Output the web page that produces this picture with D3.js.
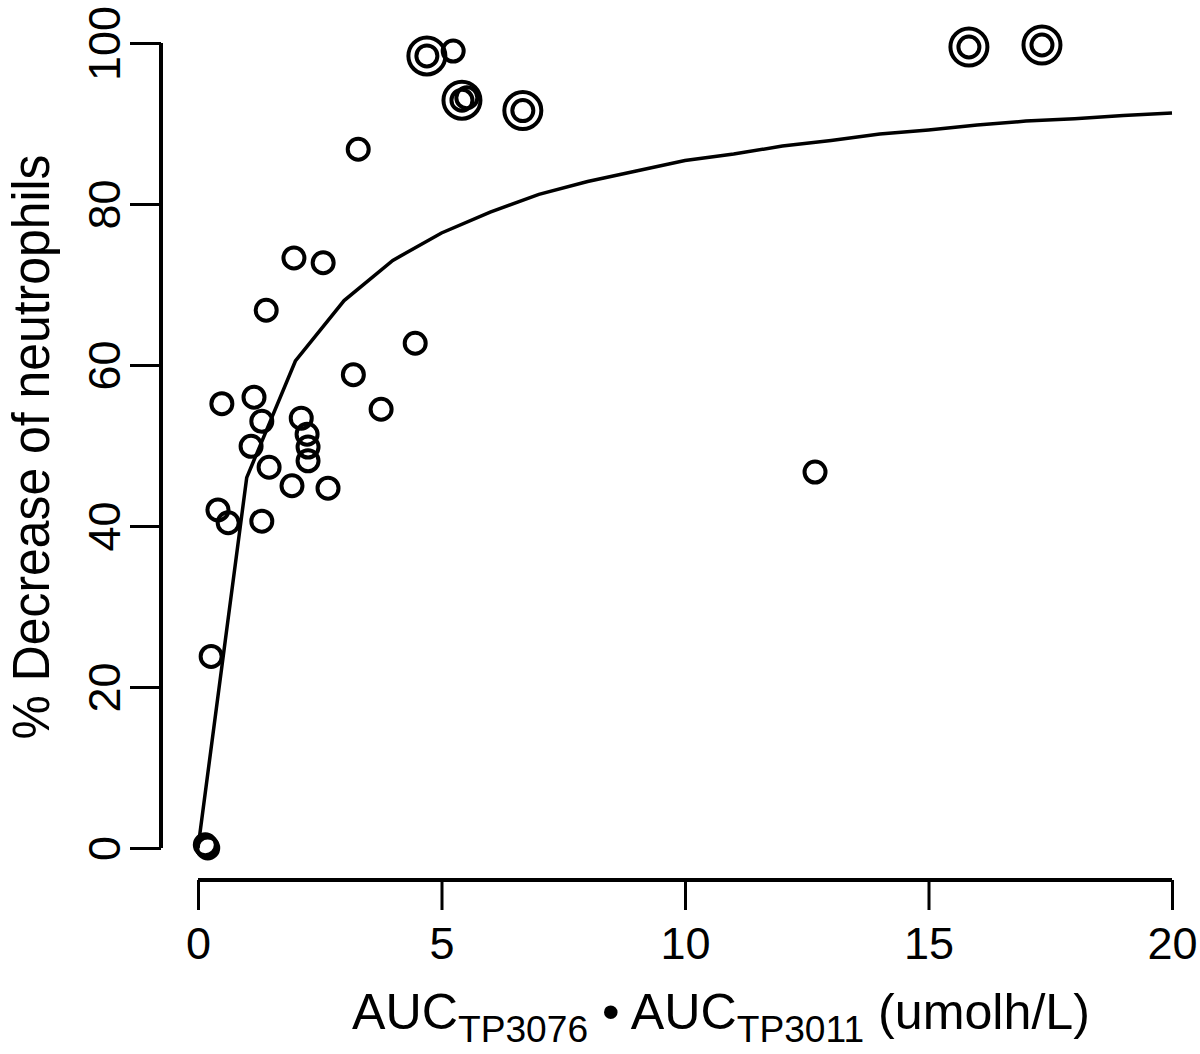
<!DOCTYPE html>
<html><head><meta charset="utf-8">
<script src="https://cdn.jsdelivr.net/npm/d3@7"></script>
<style>body{margin:0;background:#fff}svg{display:block}text{font-family:"Liberation Sans",Arial,sans-serif;fill:#000}</style>
</head><body>
<script>
// Fitted curve
const curveX = [0,1,2,3,4,5,6,7,8,9,10,11,12,13,14,15,16,17,18,19,20];
const curveY = [0,46,60.5,68,73,76.4,79,81.2,82.8,84.1,85.4,86.2,87.2,87.9,88.7,89.2,89.8,90.3,90.6,91.0,91.3];
// Single-circle observations
const singleX = [5.24,3.29,1.97,2.57,1.40,4.46,3.19,0.49,1.15,1.31,2.12,2.24,2.26,2.26,1.09,1.46,1.93,2.67,3.76,0.41,0.62,1.31,0.27,12.67,5.52,0.15,0.2,0.18];
const singleY = [99.0,86.8,73.3,72.7,66.8,62.7,58.8,55.2,56.0,53.0,53.4,51.4,49.8,48.1,49.9,47.3,45.0,44.7,54.5,42.0,40.4,40.6,23.8,46.7,93.2,0.4,0,0.2];
// Double-circle observations
const doubleX = [4.70,5.42,6.67,15.83,17.33];
const doubleY = [98.4,92.9,91.6,99.5,99.75];
const xTicks = [0,5,10,15,20];
const yTicks = [0,20,40,60,80,100];
const yTitle = "% Decrease of neutrophils";
const xTitleParts = [
  {t:"AUC", kind:"main"},{t:"TP3076", kind:"sub"},{t:" \u2022 ", kind:"bullet"},
  {t:"AUC", kind:"main"},{t:"TP3011", kind:"sub"},{t:" (umolh/L)", kind:"main"}
];

const W=1200,H=1054;
const svg=d3.select("body").append("svg").attr("width",W).attr("height",H);
const x=d3.scaleLinear().domain([0,20]).range([198,1172]);
const y=d3.scaleLinear().domain([0,100]).range([848,43]);

// x axis
const xa=svg.append("g").attr("transform","translate(0,880)")
  .call(d3.axisBottom(x).tickValues(xTicks).tickSize(30).tickPadding(17).tickSizeOuter(0));
xa.select(".domain").attr("stroke-width",4).attr("d",`M${x(0)},0H${x(20)}`);
xa.selectAll(".tick line").attr("stroke-width",3);
xa.selectAll(".tick text").attr("font-size",45).attr("font-family","Liberation Sans,Arial,sans-serif");

// y axis
const ya=svg.append("g").attr("transform","translate(161,0)")
  .call(d3.axisLeft(y).tickValues(yTicks).tickSize(31).tickPadding(0).tickSizeOuter(0));
ya.select(".domain").attr("stroke-width",4).attr("d",`M0,${y(0)}V${y(100)}`);
ya.selectAll(".tick line").attr("stroke-width",3);
ya.selectAll(".tick text").attr("font-size",45).attr("font-family","Liberation Sans,Arial,sans-serif")
  .attr("text-anchor","middle").attr("x",0).attr("dy",0)
  .attr("transform","translate(-57,0) rotate(-90)").attr("dominant-baseline","central");

// curve
svg.append("path").datum(curveX.map((d,i)=>[d,curveY[i]]))
  .attr("d",d3.line().x(d=>x(d[0])).y(d=>y(d[1])))
  .attr("fill","none").attr("stroke","#000").attr("stroke-width",3.5);

// points
const g=svg.append("g").attr("fill","none").attr("stroke","#000").attr("stroke-width",4);
singleX.forEach((d,i)=>g.append("circle").attr("cx",x(d)).attr("cy",y(singleY[i])).attr("r",10.5));
doubleX.forEach((d,i)=>{
  g.append("circle").attr("cx",x(d)).attr("cy",y(doubleY[i])).attr("r",10.5);
  g.append("circle").attr("cx",x(d)).attr("cy",y(doubleY[i])).attr("r",18.5);
});

// y title
svg.append("text").attr("transform","translate(49,447) rotate(-90)")
  .attr("text-anchor","middle").attr("font-size",51)
  .attr("textLength",585).attr("lengthAdjust","spacingAndGlyphs")
  .text(yTitle);

// x title (one text, sub-scripted parts)
const xt=svg.append("text").attr("x",721).attr("y",1029).attr("text-anchor","middle")
  .attr("font-size",50).attr("textLength",738).attr("lengthAdjust","spacingAndGlyphs");
let cur=0;
xTitleParts.forEach(p=>{
  const off = p.kind==="sub"?13:0;
  const s=xt.append("tspan").attr("dy",off-cur).text(p.t);
  if(p.kind==="sub") s.attr("font-size",37);
  cur=off;
});
</script>
</body></html>
